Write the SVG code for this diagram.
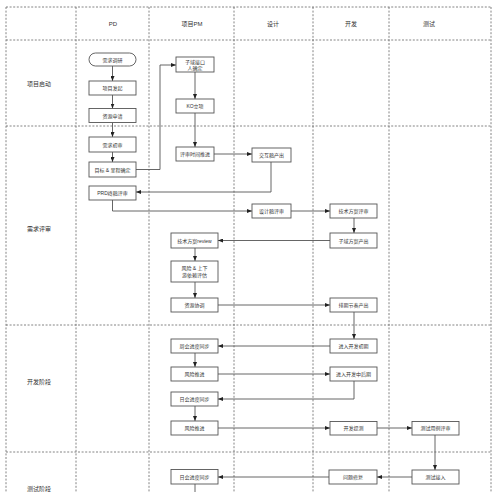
<svg xmlns="http://www.w3.org/2000/svg" width="500" height="492" viewBox="0 0 500 492">
<defs>
<style>
.lane{fill:none;stroke:#666;stroke-width:0.8;stroke-dasharray:2,1.6}
.box rect{fill:#fff;stroke:#555;stroke-width:0.9}
.box text{font-family:"Liberation Sans","Noto Sans CJK SC",sans-serif;font-size:5px;fill:#333;text-anchor:middle;dominant-baseline:central}
.hdr{font-family:"Liberation Sans","Noto Sans CJK SC",sans-serif;font-size:6px;fill:#333;text-anchor:middle;dominant-baseline:central}
.conn path{fill:none;stroke:#555;stroke-width:0.9;marker-end:url(#arr)}
</style>
<marker id="arr" markerWidth="5" markerHeight="4" refX="5" refY="2" orient="auto" markerUnits="userSpaceOnUse">
<path d="M0,0 L5,2 L0,4 z" fill="#222"/>
</marker>
</defs>
<rect width="500" height="492" fill="#fff"/>
<g id="lanes">
<path class="lane" d="M6,7 H491 M6,40 H491 M6,126 H491 M6,325 H491 M6,452 H491 M6,7 V492 M76,7 V492 M149,7 V492 M234,7 V492 M313,7 V492 M389,7 V492 M491,7 V492"/>
<text class="hdr" x="113" y="24">PD</text>
<text class="hdr" x="192" y="24">项目PM</text>
<text class="hdr" x="273" y="24">设计</text>
<text class="hdr" x="351" y="24">开发</text>
<text class="hdr" x="429" y="24">测试</text>
<text class="hdr" x="39" y="84">项目启动</text>
<text class="hdr" x="39" y="229">需求评审</text>
<text class="hdr" x="39" y="382">开发阶段</text>
<text class="hdr" x="39" y="489">测试阶段</text>
</g>
<g class="conn" id="connectors">
<path d="M112.5,66 V81"/>
<path d="M112.5,95 V108.5"/>
<path d="M112.5,122.5 V137"/>
<path d="M112.5,152 V162"/>
<path d="M136,169.5 H160 V65 H176"/>
<path d="M195,72 V99"/>
<path d="M195,113 V147"/>
<path d="M214,154 H252"/>
<path d="M271,162 V192 H136"/>
<path d="M112.5,200 V211 H252"/>
<path d="M291,211 H330"/>
<path d="M354,218 V233"/>
<path d="M330,240.5 H218"/>
<path d="M195,248 V261"/>
<path d="M195,282 V298"/>
<path d="M218,305 H330"/>
<path d="M354,312 V339"/>
<path d="M330,346 H218"/>
<path d="M195,353 V367"/>
<path d="M218,374 H330"/>
<path d="M354,381 V399 H218"/>
<path d="M195,406 V421"/>
<path d="M218,428 H330"/>
<path d="M377,428 H412"/>
<path d="M435,435 V470"/>
<path d="M412,477 H377"/>
<path d="M329,477 H218"/>
<path d="M195,484 V492" style="marker-end:none"/>
</g>
<g class="box" id="n1"><rect x="89" y="53" width="47" height="13" rx="6.5"/><text x="112.5" y="59.5">需求调研</text></g>
<g class="box" id="n2"><rect x="89" y="81" width="47" height="14"/><text x="112.5" y="88">项目发起</text></g>
<g class="box" id="n3"><rect x="89" y="108.5" width="47" height="14"/><text x="112.5" y="115.5">资源申请</text></g>
<g class="box" id="n4"><rect x="89" y="137" width="47" height="15"/><text x="112.5" y="144.5">需求初审</text></g>
<g class="box" id="n5"><rect x="89" y="162" width="47" height="15"/><text x="112.5" y="169.5">目标 &amp; 里程确定</text></g>
<g class="box" id="n6"><rect x="89" y="186" width="47" height="14"/><text x="112.5" y="193">PRD终稿评审</text></g>
<g class="box" id="n7"><rect x="176" y="57" width="38" height="15"/><text x="195" y="61.8">子域接口</text><text x="195" y="67.5">人确定</text></g>
<g class="box" id="n8"><rect x="176" y="99" width="38" height="14"/><text x="195" y="106">KO立项</text></g>
<g class="box" id="n9"><rect x="176" y="147" width="38" height="14"/><text x="195" y="154">评审时间推进</text></g>
<g class="box" id="n10"><rect x="252" y="148" width="39" height="14"/><text x="271.5" y="155">交互稿产出</text></g>
<g class="box" id="n11"><rect x="252" y="204" width="39" height="14"/><text x="271.5" y="211">设计稿评审</text></g>
<g class="box" id="n12"><rect x="330" y="204" width="47" height="14"/><text x="353.5" y="211">技术方案评审</text></g>
<g class="box" id="n13"><rect x="330" y="233" width="47" height="15"/><text x="353.5" y="240.5">子域方案产出</text></g>
<g class="box" id="n14"><rect x="171" y="233" width="47" height="15"/><text x="194.5" y="240.5">技术方案review</text></g>
<g class="box" id="n15"><rect x="171" y="261" width="47" height="21"/><text x="194.5" y="268">风险 &amp; 上下</text><text x="194.5" y="275">游依赖评估</text></g>
<g class="box" id="n16"><rect x="171" y="298" width="47" height="14"/><text x="194.5" y="305">资源协调</text></g>
<g class="box" id="n17"><rect x="330" y="298" width="47" height="14"/><text x="353.5" y="305">排期节奏产出</text></g>
<g class="box" id="n18"><rect x="330" y="339" width="47" height="14"/><text x="353.5" y="346">进入开发初期</text></g>
<g class="box" id="n19"><rect x="171" y="339" width="47" height="14"/><text x="194.5" y="346">周会进度同步</text></g>
<g class="box" id="n20"><rect x="171" y="367" width="47" height="14"/><text x="194.5" y="374">风险推进</text></g>
<g class="box" id="n21"><rect x="330" y="367" width="47" height="14"/><text x="353.5" y="374">进入开发中后期</text></g>
<g class="box" id="n22"><rect x="171" y="392" width="47" height="14"/><text x="194.5" y="399">日会进度同步</text></g>
<g class="box" id="n23"><rect x="171" y="421" width="47" height="14"/><text x="194.5" y="428">风险推进</text></g>
<g class="box" id="n24"><rect x="330" y="421.5" width="47" height="13.5"/><text x="353.5" y="428">开发提测</text></g>
<g class="box" id="n25"><rect x="412" y="421.5" width="47" height="13.5"/><text x="435.5" y="428">测试用例评审</text></g>
<g class="box" id="n26"><rect x="412" y="470" width="47" height="14"/><text x="435.5" y="477">测试接入</text></g>
<g class="box" id="n27"><rect x="329" y="470" width="48" height="14"/><text x="353" y="477">问题修复</text></g>
<g class="box" id="n28"><rect x="171" y="469.5" width="47" height="14.5"/><text x="194.5" y="477">日会进度同步</text></g>
</svg>
